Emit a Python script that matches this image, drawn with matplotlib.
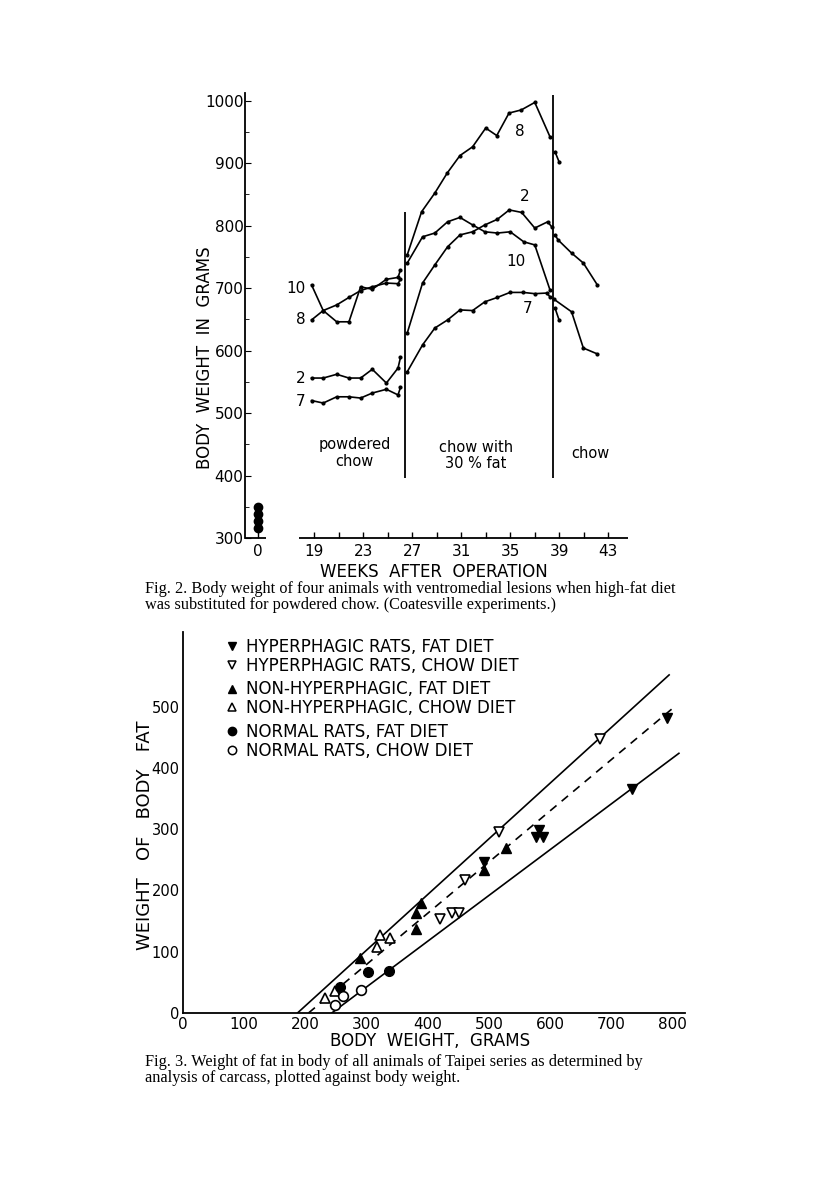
import matplotlib
matplotlib.use('Agg')
import matplotlib.pyplot as plt
from matplotlib.lines import Line2D

# ---------------- Fig. 2 data (weeks after operation, body weight g) ----------------
start_weights = [316, 327, 338, 350]      # week 0 dots
week0_pos = 14.4                           # where the "0" sits on the broken axis

# powdered chow period
wk_pow = [18.8, 19.75, 20.85, 21.85, 22.8, 23.75, 24.9, 25.85, 26.05]
a8_pow = [649, 664, 673, 685, 696, 702, 708, 707, 714]
a10_pow = [705, 664, 646, 646, 702, 698, 714, 717, 729]
a2_pow = [556, 556, 562, 556, 556, 570, 548, 572, 589]
a7_pow = [520, 516, 526, 526, 524, 532, 538, 529, 541]

# chow with 30% fat
wk8_fat = [26.6, 27.77, 28.85, 29.86, 30.9, 31.93, 33.0, 33.9, 34.9, 35.9, 37.0, 38.24]
a8_fat = [753, 822, 852, 884, 912, 926, 956, 944, 980, 985, 997, 942]
wk2_fat = [26.6, 27.85, 28.85, 29.89, 30.9, 31.93, 32.93, 33.95, 34.92, 35.93, 37.0, 38.05, 38.38]
a2_fat = [628, 708, 737, 766, 785, 790, 801, 810, 825, 821, 796, 806, 798]
wk10_fat = [26.6, 27.85, 28.85, 29.89, 30.9, 31.93, 32.93, 33.95, 35.0, 36.1, 37.0, 38.24]
a10_fat = [740, 782, 788, 806, 813, 801, 790, 788, 790, 774, 769, 697]
wk7_fat = [26.6, 27.85, 28.85, 29.89, 30.9, 31.93, 32.93, 33.95, 34.98, 36.06, 37.0, 37.97, 38.24]
a7_fat = [566, 609, 636, 649, 665, 664, 678, 685, 693, 693, 691, 692, 686]

# back on chow
wk2_chow = [38.65, 38.9, 40.0, 40.96, 42.1]
a2_chow = [785, 777, 756, 740, 705]
wk7_chow = [38.57, 40.0, 40.96, 42.05]
a7_chow = [682, 662, 604, 595]
wk8_chow = [38.65, 38.98]
a8_chow = [918, 902]
wk10_chow = [38.65, 38.98]
a10_chow = [668, 649]

diet_switch_weeks = [26.4, 38.5]
x_ticks_top = [19, 23, 27, 31, 35, 39, 43]

# ---------------- Fig. 3 data (body weight g, body fat g) ----------------
hyp_fat_x = [492, 576, 588, 582, 734, 791]
hyp_fat_y = [246, 288, 288, 298, 366, 482]
hyp_chow_x = [419, 440, 450, 461, 516, 681]
hyp_chow_y = [154, 163, 163, 217, 296, 447]
non_fat_x = [289, 381, 381, 388, 491, 528]
non_fat_y = [89, 137, 163, 179, 234, 269]
non_chow_x = [232, 248, 317, 322, 338]
non_chow_y = [24, 36, 108, 128, 122]
norm_fat_x = [257, 302, 336]
norm_fat_y = [43, 67, 69]
norm_chow_x = [249, 262, 290]
norm_chow_y = [13, 28, 38]

upper_x, upper_y = [187, 794], [0, 552]
mid_x, mid_y = [205, 804], [0, 501]
lower_x, lower_y = [243, 810], [0, 424]

plt.rcParams['font.family'] = ['DejaVu Sans']
fig = plt.figure(figsize=(8.16, 11.93), dpi=100)

# ======================= Fig. 2 =======================
ax = fig.add_axes([0.3002, 0.549, 0.4694, 0.373])
ax.set_xlim(13.37, 44.6)
ax.set_ylim(300, 1012)
for s in ['top', 'right', 'bottom']:
    ax.spines[s].set_visible(False)
ax.spines['left'].set_linewidth(1.3)

kw = dict(color='black', lw=1.2, marker='o', ms=2)
for wk, vals in [(wk_pow, a8_pow), (wk_pow, a10_pow), (wk_pow, a2_pow), (wk_pow, a7_pow),
                 (wk8_fat, a8_fat), (wk2_fat, a2_fat), (wk10_fat, a10_fat), (wk7_fat, a7_fat),
                 (wk2_chow, a2_chow), (wk7_chow, a7_chow), (wk8_chow, a8_chow), (wk10_chow, a10_chow)]:
    ax.plot(wk, vals, **kw)

ax.plot([week0_pos] * len(start_weights), start_weights, 'o', color='black', ms=6)

ax.vlines(diet_switch_weeks[0], 396, 822, color='black', lw=1.3)
ax.vlines(diet_switch_weeks[1], 396, 1009, color='black', lw=1.3)

# broken x axis
ax.hlines(300, 13.37, 15.1, color='black', lw=1.3, clip_on=False)
ax.hlines(300, 17.8, 44.6, color='black', lw=1.3, clip_on=False)

ax.set_yticks(range(300, 1001, 100))
ax.set_yticklabels([str(v) for v in range(300, 1001, 100)], fontsize=11)
ax.set_yticks(range(350, 1000, 100), minor=True)
ax.tick_params(axis='y', which='major', direction='in', length=4, pad=1)
ax.tick_params(axis='y', which='minor', direction='in', length=3)
ax.set_xticks([week0_pos] + x_ticks_top)
ax.set_xticklabels(['0'] + [str(w) for w in x_ticks_top], fontsize=11)
ax.set_xticks(list(range(21, 44, 4)), minor=True)
ax.tick_params(axis='x', which='both', direction='in', length=4, pad=4, width=1)

for txt, x, y in [('8', 35.8, 951), ('2', 36.2, 846), ('10', 35.5, 742), ('7', 36.4, 667),
                  ('10', 17.55, 700), ('8', 17.9, 649), ('2', 17.9, 556), ('7', 17.9, 519)]:
    ax.text(x, y, txt, fontsize=11, ha='center', va='center')

ax.text(22.3, 436, 'powdered\nchow', fontsize=10.5, ha='center', va='center', linespacing=1.1)
ax.text(32.2, 432, 'chow with\n30 % fat', fontsize=10.5, ha='center', va='center', linespacing=1.1)
ax.text(41.5, 436, 'chow', fontsize=10.5, ha='center', va='center')

fig.text(0.532, 0.5205, 'WEEKS  AFTER  OPERATION', fontsize=12, ha='center', va='center')
fig.text(0.251, 0.700, 'BODY  WEIGHT  IN  GRAMS', fontsize=12, ha='center', va='center', rotation=90)

fig.text(0.178, 0.4996,
         'Fig. 2. Body weight of four animals with ventromedial lesions when high-fat diet\n'
         'was substituted for powdered chow. (Coatesville experiments.)',
         fontsize=11.7, family='Liberation Serif', ha='left', va='center', linespacing=1.0)

# ======================= Fig. 3 =======================
bx = fig.add_axes([0.2243, 0.1509, 0.6152, 0.3193])
bx.set_xlim(0, 820)
bx.set_ylim(0, 622)
for s in ['top', 'right']:
    bx.spines[s].set_visible(False)
bx.spines['left'].set_linewidth(1.3)
bx.spines['bottom'].set_linewidth(1.3)

bx.plot(upper_x, upper_y, color='black', lw=1.2)
bx.plot(lower_x, lower_y, color='black', lw=1.2)
bx.plot(mid_x, mid_y, color='black', lw=1.2, linestyle=(0, (5, 4)))

ms = 7
open_kw = dict(linestyle='none', mfc='white', mec='black', mew=1.2, ms=ms)
fill_kw = dict(linestyle='none', color='black', ms=ms)
bx.plot(hyp_fat_x, hyp_fat_y, 'v', **fill_kw)
bx.plot(hyp_chow_x, hyp_chow_y, 'v', **open_kw)
bx.plot(non_fat_x, non_fat_y, '^', **fill_kw)
bx.plot(non_chow_x, non_chow_y, '^', **open_kw)
bx.plot(norm_fat_x, norm_fat_y, 'o', **fill_kw)
bx.plot(norm_chow_x, norm_chow_y, 'o', **open_kw)

bx.set_xticks(range(0, 801, 100))
bx.set_xticklabels([str(v) for v in range(0, 801, 100)], fontsize=11)
bx.set_yticks(range(0, 501, 100))
bx.set_yticklabels([str(v) for v in range(0, 501, 100)], fontsize=10.5)
bx.tick_params(axis='x', length=0, pad=3)
bx.tick_params(axis='y', length=0, pad=2.5)

groups = [
    [('v', True, 'HYPERPHAGIC RATS, FAT DIET'), ('v', False, 'HYPERPHAGIC RATS, CHOW DIET')],
    [('^', True, 'NON-HYPERPHAGIC, FAT DIET'), ('^', False, 'NON-HYPERPHAGIC, CHOW DIET')],
    [('o', True, 'NORMAL RATS, FAT DIET'), ('o', False, 'NORMAL RATS, CHOW DIET')],
]
tops = [0.985, 0.873, 0.762]
legends = []
for grp, top in zip(groups, tops):
    handles = []
    labels = []
    for m, filled, lab in grp:
        if filled:
            h = Line2D([], [], marker=m, linestyle='none', color='black', ms=6)
        else:
            h = Line2D([], [], marker=m, linestyle='none', mfc='white', mec='black', mew=1.1, ms=6)
        handles.append(h)
        labels.append(lab)
    leg = bx.legend(handles, labels, loc='upper left', bbox_to_anchor=(0.085, top),
                    frameon=False, fontsize=12, handlelength=0.8, handletextpad=0.4,
                    labelspacing=0.05, borderaxespad=0, borderpad=0)
    legends.append(leg)
for leg in legends[:-1]:
    bx.add_artist(leg)

fig.text(0.527, 0.127, 'BODY  WEIGHT,  GRAMS', fontsize=12, ha='center', va='center')
fig.text(0.178, 0.300, 'WEIGHT   OF   BODY   FAT', fontsize=13, ha='center', va='center', rotation=90)

fig.text(0.178, 0.1031,
         'Fig. 3. Weight of fat in body of all animals of Taipei series as determined by\n'
         'analysis of carcass, plotted against body weight.',
         fontsize=11.7, family='Liberation Serif', ha='left', va='center', linespacing=1.0)

fig.savefig('out.png', dpi=100)
